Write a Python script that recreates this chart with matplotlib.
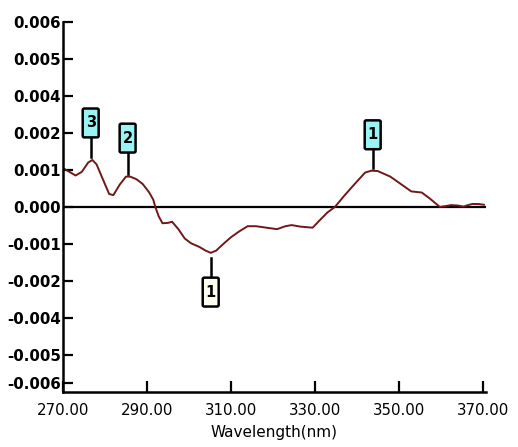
import matplotlib.pyplot as plt
from matplotlib.patches import FancyBboxPatch

# CD spectrum trace (wavelength in nm, signal)
wavelength = [270.0, 271.5, 273.0, 274.5, 276.0, 277.0, 278.0, 279.5, 281.0, 282.0,
              283.5, 285.0, 286.0, 287.5, 289.0, 290.5, 291.5, 292.0, 292.8, 293.7,
              295.0, 296.0, 297.5, 299.0, 300.5, 302.5, 304.0, 305.2, 306.5, 308.0,
              310.0, 312.0, 314.0, 316.0, 318.5, 321.0, 323.0, 324.5, 326.5, 329.5,
              331.0, 333.0, 334.8, 337.0, 339.5, 342.0, 343.5, 345.0, 348.0, 350.5,
              353.0, 355.5, 357.5, 359.8, 361.0, 362.5, 364.0, 365.5, 366.5, 367.5,
              369.0, 370.3]
signal = [0.00105, 0.00095, 0.00085, 0.00095, 0.00120, 0.00127, 0.00115, 0.00075, 0.00035, 0.00032,
          0.00060, 0.00082, 0.00082, 0.00075, 0.00062, 0.00040, 0.00020, 0.00000, -0.00025, -0.00044,
          -0.00043, -0.00040, -0.00060, -0.00085, -0.00098, -0.00108, -0.00118, -0.00124, -0.00118, -0.00102,
          -0.00082, -0.00066, -0.00052, -0.00052, -0.00056, -0.00060, -0.00052, -0.00049, -0.00053, -0.00056,
          -0.00038, -0.00015, 0.00000, 0.00030, 0.00062, 0.00093, 0.00098, 0.00097, 0.00082, 0.00062,
          0.00042, 0.00039, 0.00022, 0.00000, 0.00002, 0.00005, 0.00004, 0.00001, 0.00005, 0.00008,
          0.00008, 0.00006]

# peak tags: label, wavelength, peak value, box centre height, fill
peak_labels = ["3", "2", "1", "1"]
peak_x = [276.6, 285.4, 343.8, 305.2]
peak_y = [0.00127, 0.00082, 0.00098, -0.00124]
tag_y = [0.00227, 0.00186, 0.00195, -0.00230]
tag_fill = ["#9af4f4", "#9af4f4", "#9af4f4", "#fffff2"]

ytick_pos = [0.005, 0.004, 0.003, 0.002, 0.001, 0.0, -0.001, -0.002, -0.003, -0.004, -0.00476]
ytick_labels = ["0.006", "0.005", "0.004", "0.002", "0.001", "0.000",
                "-0.001", "-0.002", "-0.004", "-0.005", "-0.006"]
xticks = [270, 290, 310, 330, 350, 370]

fig = plt.figure(figsize=(5.18, 4.47), dpi=100)
ax = fig.add_axes([0.1216, 0.123, 0.8166, 0.828])

ax.axhline(0, color="black", lw=1.6, zorder=1)
ax.plot(wavelength, signal, color="#701818", lw=1.4, zorder=2)

half_w, half_h = 1.9, 0.00039
for lab, px, py, ty, fc in zip(peak_labels, peak_x, peak_y, tag_y, tag_fill):
    box = FancyBboxPatch((px - half_w, ty - half_h), 2 * half_w, 2 * half_h,
                         boxstyle="round,pad=0,rounding_size=0.4", mutation_aspect=0.0001,
                         fc=fc, ec="black", lw=1.8, zorder=4)
    ax.add_patch(box)
    ax.text(px, ty, lab, ha="center", va="center", fontsize=10.5,
            fontweight="bold", color="black", zorder=5)
    if ty > 0:
        ax.plot([px, px], [ty - half_h, py + 0.00008], color="black", lw=1.8, zorder=3)
    else:
        ax.plot([px, px], [ty + half_h, py - 0.00014], color="black", lw=1.8, zorder=3)

ax.set_xlim(270, 370.8)
ax.set_ylim(-0.005, 0.005)
ax.set_xticks(xticks)
ax.set_xticklabels([f"{v:.2f}" for v in xticks], fontsize=10.8)
ax.set_yticks(ytick_pos)
ax.set_yticklabels(ytick_labels, fontsize=10.8, fontweight="bold")
ax.tick_params(axis="x", direction="in", length=8, width=1.6, pad=8)
ax.tick_params(axis="y", direction="in", length=7, width=1.6, pad=1.5)

for side in ("top", "right"):
    ax.spines[side].set_visible(False)
for side in ("left", "bottom"):
    ax.spines[side].set_linewidth(1.8)

ax.set_xlabel("Wavelength(nm)", fontsize=11, labelpad=5)

fig.savefig("out.png", dpi=100)
